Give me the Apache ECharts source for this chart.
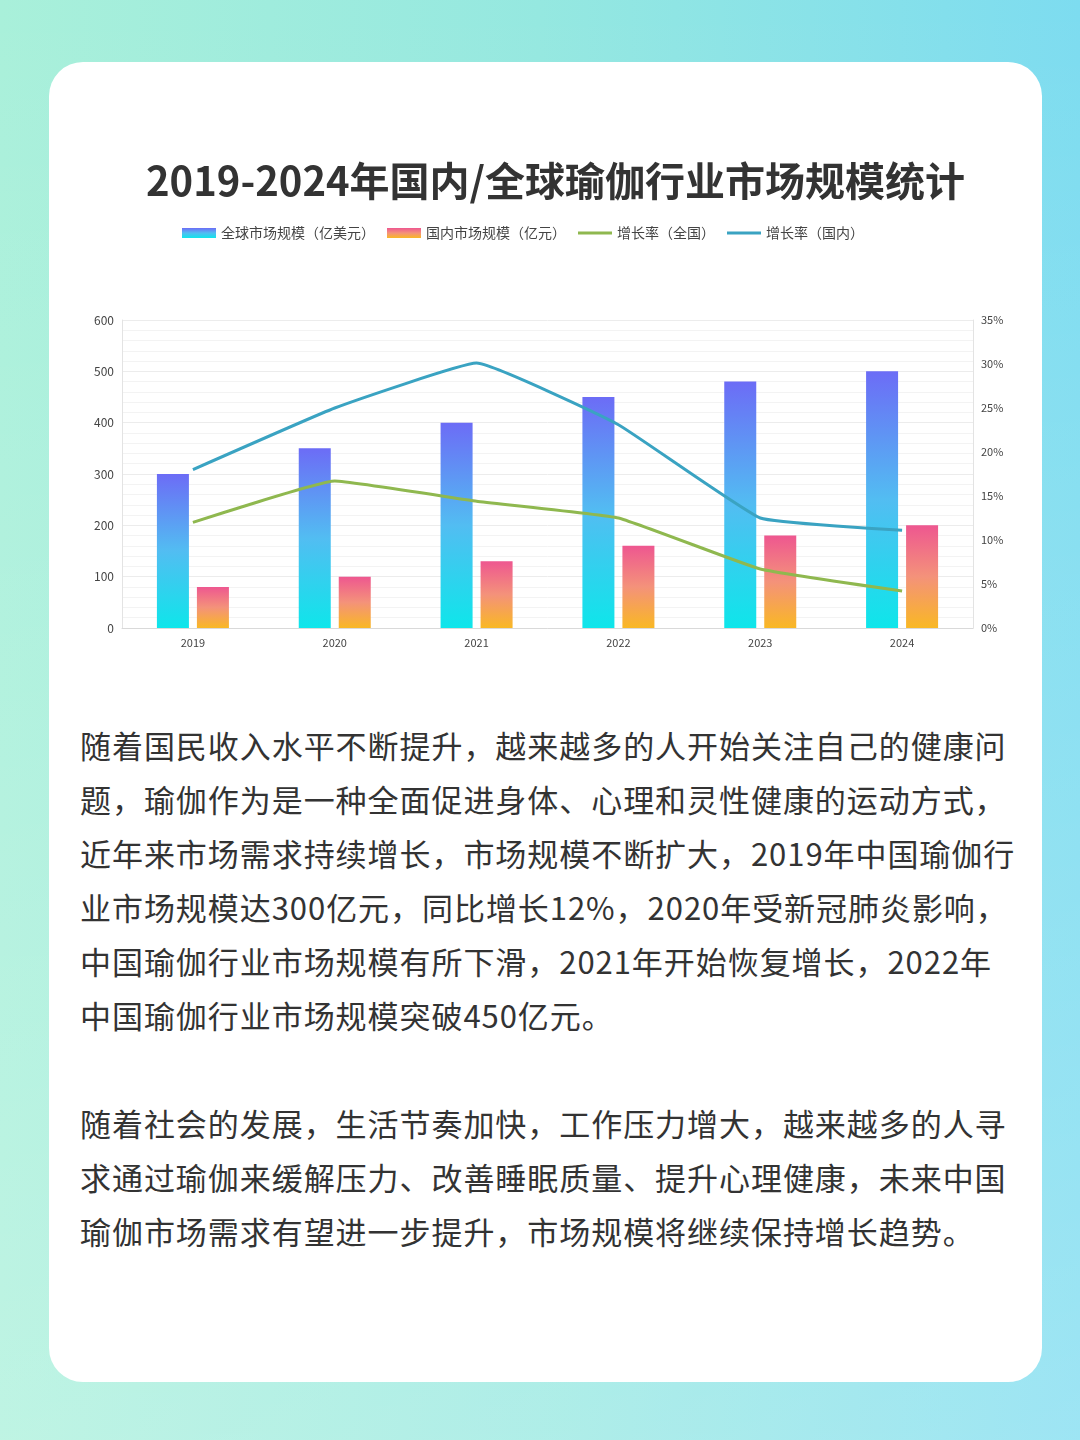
<!DOCTYPE html>
<html>
<head>
<meta charset="utf-8">
<script src="https://cdn.jsdelivr.net/npm/echarts@6/dist/echarts.min.js"></script>
<style>
  html, body { margin:0; padding:0; width:1080px; height:1440px; overflow:hidden; }
  body { background: linear-gradient(90deg, #a9f0da 0%, #95e8e0 50%, #7ddcf0 100%); position:relative; font-family:"Noto Sans CJK SC","Noto Sans",sans-serif; }
  .shade { position:absolute; left:0; top:0; width:1080px; height:1440px; background: linear-gradient(180deg, rgba(255,255,255,0) 0%, rgba(255,255,255,0.25) 100%); }
  .card { position:absolute; left:49px; top:62px; width:993px; height:1320px; background:#fff; border-radius:34px; }
  #chart { position:absolute; left:0; top:0; width:1080px; height:700px; }
  .txt { position:absolute; left:80px; color:#333; font-size:31px; line-height:54px; white-space:nowrap; letter-spacing:0.95px; }
</style>
</head>
<body>
<div class="shade"></div>
<div class="card"></div>
<div id="chart"></div>
<div class="txt" style="top:718px;">
<div>随着国民收入水平不断提升，越来越多的人开始关注自己的健康问</div>
<div>题，瑜伽作为是一种全面促进身体、心理和灵性健康的运动方式，</div>
<div>近年来市场需求持续增长，市场规模不断扩大，2019年中国瑜伽行</div>
<div>业市场规模达300亿元，同比增长12%，2020年受新冠肺炎影响，</div>
<div>中国瑜伽行业市场规模有所下滑，2021年开始恢复增长，2022年</div>
<div>中国瑜伽行业市场规模突破450亿元。</div>
</div>
<div class="txt" style="top:1096px;">
<div>随着社会的发展，生活节奏加快，工作压力增大，越来越多的人寻</div>
<div>求通过瑜伽来缓解压力、改善睡眠质量、提升心理健康，未来中国</div>
<div>瑜伽市场需求有望进一步提升，市场规模将继续保持增长趋势。</div>
</div>
<script>
const years = ['2019','2020','2021','2022','2023','2024'];
const globalMarket = [300, 350, 400, 450, 480, 500];
const domesticMarket = [80, 100, 130, 160, 180, 200];
const growthNational = [12, 16.7, 14.4, 12.5, 6.7, 4.2];
const growthDomestic = [18, 25, 30.1, 23.1, 12.5, 11.1];
const leftTicks = [0, 100, 200, 300, 400, 500, 600];
const rightTicks = [0, 5, 10, 15, 20, 25, 30, 35];

const chart = echarts.init(document.getElementById('chart'));
const font = '"Noto Sans CJK SC","Noto Sans",sans-serif';
const blueGrad = new echarts.graphic.LinearGradient(0,0,0,1,[{offset:0,color:'#6c6cf6'},{offset:0.5,color:'#52bdf2'},{offset:1,color:'#0ee6ea'}]);
const orangeGrad = new echarts.graphic.LinearGradient(0,0,0,1,[{offset:0,color:'#ee5790'},{offset:0.5,color:'#f4927a'},{offset:1,color:'#f9b824'}]);
const lineIcon = 'path://M0,0 L34,0 L34,3 L0,3 Z';
chart.setOption({
  textStyle: { fontFamily: font },
  title: {
    text: '2019-2024年国内/全球瑜伽行业市场规模统计',
    left: 141, top: 156,
    textStyle: { fontSize: 40, fontWeight: 'bold', color: '#333', fontFamily: font }
  },
  legend: {
    top: 221, left: 177,
    itemWidth: 34, itemHeight: 10, itemGap: 12,
    textStyle: { fontSize: 14, color: '#444', fontFamily: font },
    data: [
      { name: '全球市场规模（亿美元）', icon: 'rect' },
      { name: '国内市场规模（亿元）', icon: 'rect' },
      { name: '增长率（全国）', icon: lineIcon },
      { name: '增长率（国内）', icon: lineIcon }
    ]
  },
  grid: { left: 122, right: 107, top: 320, bottom: 72, containLabel: false },
  xAxis: {
    type: 'category', data: years,
    axisLine: { lineStyle: { color: '#d9d9d9' } },
    axisTick: { show: false },
    axisLabel: { color: '#444', fontSize: 11, margin: 9 }
  },
  yAxis: [
    {
      type: 'value', min: leftTicks[0], max: leftTicks[leftTicks.length-1], interval: 100,
      axisLine: { show: true, lineStyle: { color: '#e3e3e3' } },
      axisTick: { show: false },
      axisLabel: { color: '#444', fontSize: 12, margin: 8 },
      splitLine: { lineStyle: { color: '#ececec' } },
      minorTick: { show: false, splitNumber: 5 },
      minorSplitLine: { show: true, lineStyle: { color: '#f3f3f3' } }
    },
    {
      type: 'value', min: rightTicks[0], max: rightTicks[rightTicks.length-1], interval: 5,
      axisLine: { show: true, lineStyle: { color: '#e3e3e3' } },
      axisTick: { show: false },
      axisLabel: { color: '#444', fontSize: 11, margin: 8, formatter: '{value}%' },
      splitLine: { show: false }
    }
  ],
  series: [
    { name: '全球市场规模（亿美元）', type: 'bar', data: globalMarket, barWidth: 32, barGap: '25%',
      itemStyle: { color: blueGrad } },
    { name: '国内市场规模（亿元）', type: 'bar', data: domesticMarket, barWidth: 32, barGap: '25%',
      itemStyle: { color: orangeGrad } },
    { name: '增长率（全国）', type: 'line', yAxisIndex: 1, data: growthNational, symbol: 'none', smooth: 0.1,
      lineStyle: { width: 3, color: '#8fb84f' }, itemStyle: { color: '#8fb84f' } },
    { name: '增长率（国内）', type: 'line', yAxisIndex: 1, data: growthDomestic, symbol: 'none', smooth: 0.1,
      lineStyle: { width: 3, color: '#3aa3c2' }, itemStyle: { color: '#3aa3c2' } }
  ]
});
</script>
</body>
</html>
